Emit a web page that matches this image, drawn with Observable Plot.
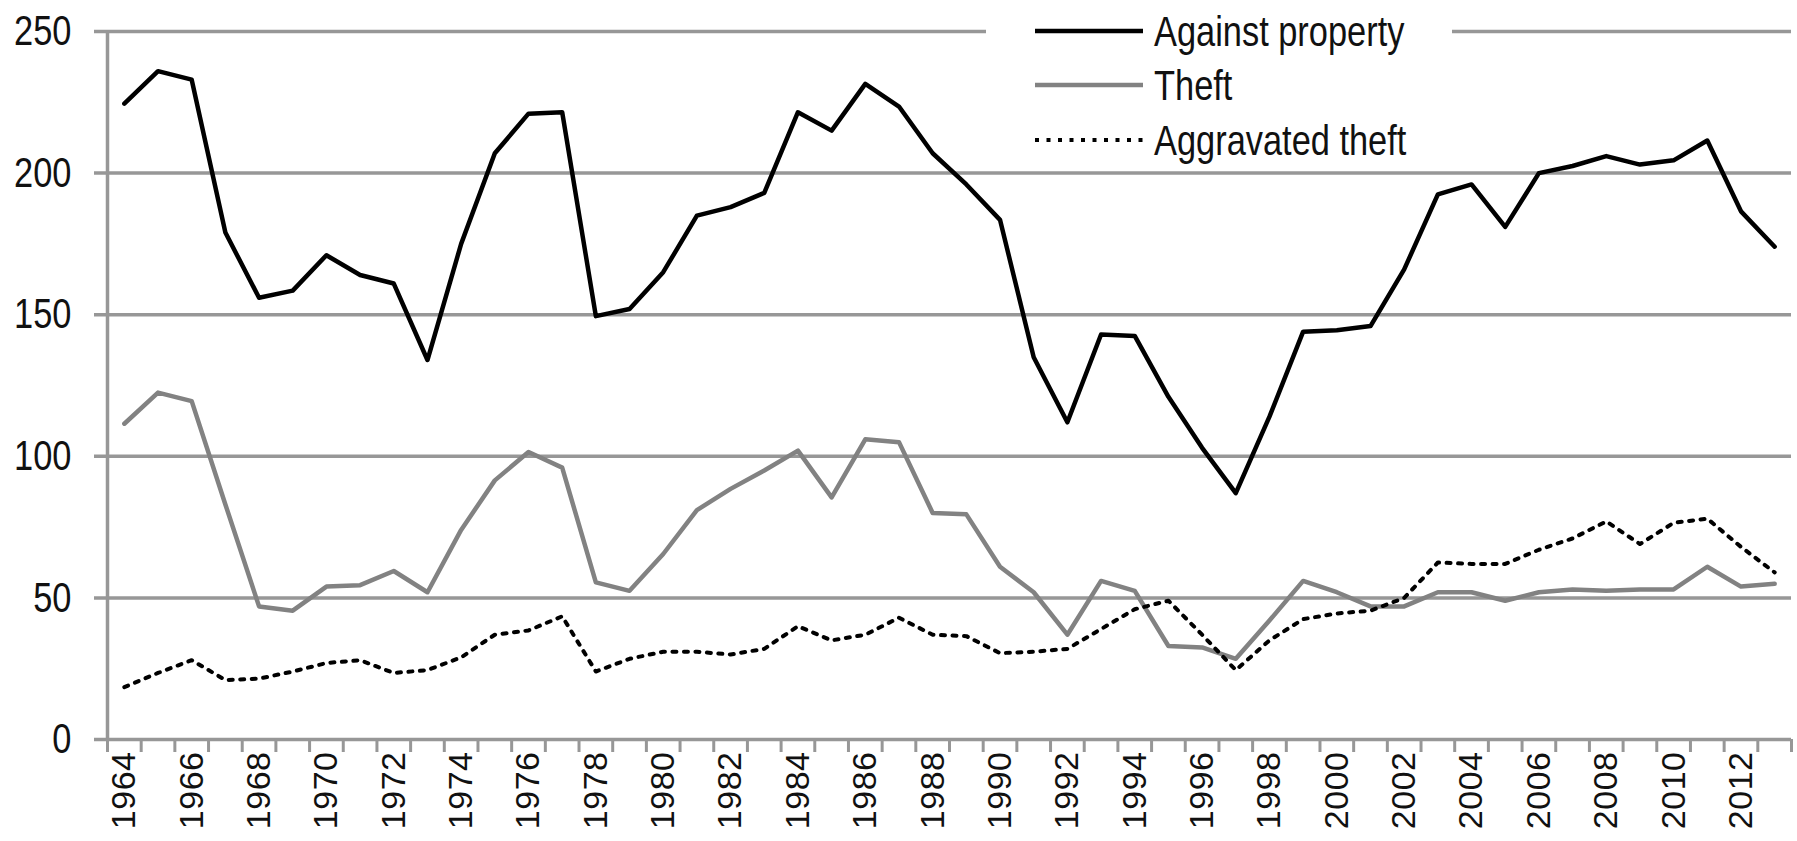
<!DOCTYPE html>
<html><head><meta charset="utf-8">
<script src="https://cdn.jsdelivr.net/npm/d3@7"></script>
<script src="https://cdn.jsdelivr.net/npm/@observablehq/plot@0.6"></script>
<style>
body{margin:0;background:#fff;}
#wrap{position:relative;width:1797px;height:841px;overflow:hidden;background:#fff;}
#wrap svg.plot{position:absolute;left:0;top:0;}
#legend{position:absolute;left:986px;top:4px;width:466px;height:160px;background:#fff;}
[aria-label="x-axis tick label"] text{letter-spacing:0.5px;}
</style></head><body><div id="wrap"></div>
<script>
const years = [1964,1965,1966,1967,1968,1969,1970,1971,1972,1973,1974,1975,1976,1977,1978,1979,1980,1981,1982,1983,1984,1985,1986,1987,1988,1989,1990,1991,1992,1993,1994,1995,1996,1997,1998,1999,2000,2001,2002,2003,2004,2005,2006,2007,2008,2009,2010,2011,2012,2013];
const againstProperty = [224.5,236,233,179,156,158.5,171,164,161,134,175,207,221,221.5,149.5,152,165,185,188,193,221.5,215,231.5,223.5,207,196,183.5,135,112,143,142.5,121,103,87,114,144,144.5,146,166,192.5,196,181,200,202.5,206,203,204.5,211.5,186.5,174];
const theft = [111.5,122.5,119.5,83,47,45.5,54,54.5,59.5,52,74,91.5,101.5,96,55.5,52.5,65.5,81,88.5,95,102,85.5,106,105,80,79.5,61,52,37,56,52.5,33,32.5,28.5,42,56,52,47,47,52,52,49,52,53,52.5,53,53,61,54,55];
const aggravatedTheft = [18.5,23.5,28,21,21.5,24,27,28,23.5,24.5,29,37,38.5,43.5,24,28.5,31,31,30,32,40,35,37,43,37,36.5,30.5,31,32,39,46,49,37,24.5,35,42.5,44.5,45.5,50,62.5,62,62,67,71,77,69,76.5,78,68,59];
const seriesNames = ["Against property","Theft","Aggravated theft"];
const yTicks = [0,50,100,150,200,250];
const xTickLabels = years.filter(y => y % 2 === 0);

const gridColor = "#979797";
const rows = s => years.map((year, i) => ({year, value: s[i]}));
const boundaries = years.map(y => y - 0.5).concat([years[years.length - 1] + 0.5]);

const chart = Plot.plot({
  width: 1797, height: 841,
  marginLeft: 107, marginRight: 6, marginTop: 31, marginBottom: 102,
  x: {domain: [years[0] - 0.5, years[years.length - 1] + 0.5]},
  y: {domain: [0, 250]},
  style: {fontFamily: "'Liberation Sans',Arial,sans-serif", background: "transparent", color: "#111"},
  marks: [
    Plot.ruleY(yTicks, {stroke: gridColor, strokeWidth: 3.5, insetLeft: -13}),
    Plot.ruleX([boundaries[0]], {stroke: gridColor, strokeWidth: 3.5}),
    Plot.ruleX(boundaries, {y1: 0, y2: 0, insetBottom: -13, stroke: gridColor, strokeWidth: 3}),
    Plot.axisY({ticks: yTicks, tickSize: 0, tickPadding: 36, fontSize: 43, label: null}),
    Plot.axisX({ticks: xTickLabels, tickSize: 0, tickRotate: -90, tickPadding: 12, fontSize: 34, label: null, tickFormat: d => String(d)}),
    Plot.line(rows(theft), {x: "year", y: "value", stroke: "#828282", strokeWidth: 4.5}),
    Plot.line(rows(aggravatedTheft), {x: "year", y: "value", stroke: "#000", strokeWidth: 4, strokeDasharray: "4 7.5"}),
    Plot.line(rows(againstProperty), {x: "year", y: "value", stroke: "#000", strokeWidth: 4.5})
  ]
});
// condense y tick labels horizontally (narrow face of the original)
d3.select(chart).selectAll('[aria-label="y-axis tick label"] text').each(function() {
  const t = this.getAttribute("transform");
  if (t) {
    this.setAttribute("transform", t + " scale(0.8,1)");
  } else {
    const x = +this.getAttribute("x") || 0, y = +this.getAttribute("y") || 0;
    this.setAttribute("x", 0); this.setAttribute("y", 0);
    this.setAttribute("transform", `translate(${x},${y}) scale(0.8,1)`);
  }
});
const wrap = document.getElementById("wrap");
wrap.appendChild(chart);

// legend
const legendStyles = [
  {stroke: "#000", width: 4.5, dash: null},
  {stroke: "#828282", width: 4.5, dash: null},
  {stroke: "#000", width: 4, dash: "4 7.5"}
];
const ns = "http://www.w3.org/2000/svg";
const lg = document.createElement("div");
lg.id = "legend";
const ls = document.createElementNS(ns, "svg");
ls.setAttribute("width", 466); ls.setAttribute("height", 160);
seriesNames.forEach((name, i) => {
  const yy = [27, 81, 136][i];
  const ln = document.createElementNS(ns, "line");
  ln.setAttribute("x1", 49); ln.setAttribute("x2", 157);
  ln.setAttribute("y1", yy); ln.setAttribute("y2", yy);
  ln.setAttribute("stroke", legendStyles[i].stroke);
  ln.setAttribute("stroke-width", legendStyles[i].width);
  if (legendStyles[i].dash) ln.setAttribute("stroke-dasharray", legendStyles[i].dash);
  ls.appendChild(ln);
  const tx = document.createElementNS(ns, "text");
  tx.setAttribute("transform", `translate(168,${yy}) scale(0.8,1)`);
  tx.setAttribute("dy", "0.35em");
  tx.setAttribute("font-size", 43);
  tx.setAttribute("font-family", "'Liberation Sans',Arial,sans-serif");
  tx.setAttribute("fill", "#111");
  tx.textContent = name;
  ls.appendChild(tx);
});
lg.appendChild(ls);
wrap.appendChild(lg);
</script></body></html>
